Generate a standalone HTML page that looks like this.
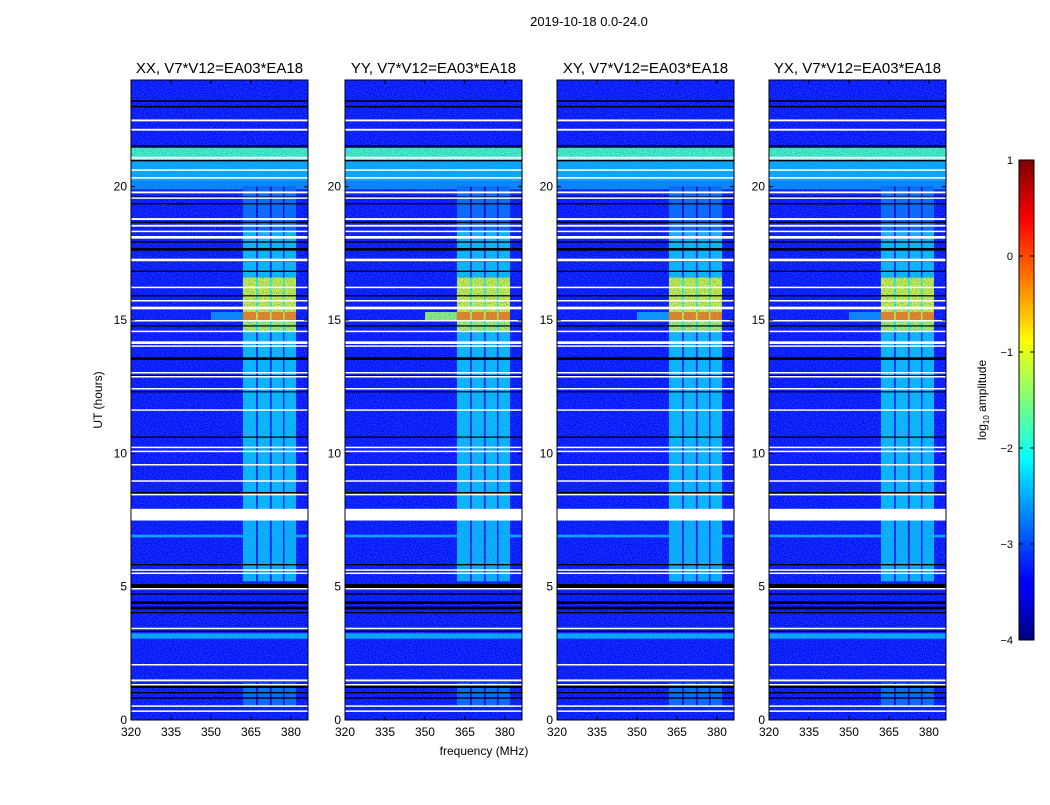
<!DOCTYPE html>
<html><head><meta charset="utf-8">
<style>
body{margin:0;background:#fff;}
svg text{font-family:"Liberation Sans",sans-serif;}
</style></head>
<body>
<svg id="fig" width="1050" height="800" xmlns="http://www.w3.org/2000/svg">
<defs>
<filter id="noise" x="0" y="0" width="100%" height="100%">
<feTurbulence type="fractalNoise" baseFrequency="0.9" numOctaves="1" seed="3" result="n"/>
<feColorMatrix in="n" type="matrix" values="0 0 0 0 0.05  0 0 0 0 0.15  0 0 0 0 0.8  0 0 0 1.6 -0.6"/>
</filter>
<linearGradient id="jet" x1="0" y1="1" x2="0" y2="0">
<stop offset="0" stop-color="#00007f"/><stop offset="0.11" stop-color="#0000ff"/>
<stop offset="0.125" stop-color="#0000ff"/><stop offset="0.34" stop-color="#00d4ff"/>
<stop offset="0.375" stop-color="#00ffff"/><stop offset="0.5" stop-color="#7dff7a"/>
<stop offset="0.625" stop-color="#ffff00"/><stop offset="0.66" stop-color="#ffd400"/>
<stop offset="0.875" stop-color="#ff0000"/><stop offset="1" stop-color="#7f0000"/>
</linearGradient>
</defs>
<text x="589" y="26" font-size="13" text-anchor="middle">2019-10-18 0.0-24.0</text>
<g id="panels"></g>
<text x="484" y="755" font-size="12" text-anchor="middle">frequency (MHz)</text>
<text transform="translate(102,400) rotate(-90)" font-size="12" text-anchor="middle">UT (hours)</text>
<g id="cbar"></g>
</svg>
<script>
const panelTitles = ["XX, V7*V12=EA03*EA18","YY, V7*V12=EA03*EA18","XY, V7*V12=EA03*EA18","YX, V7*V12=EA03*EA18"];
const xTicks = [320,335,350,365,380];
const yTicks = [0,5,10,15,20];
const cbarTicks = [1,0,-1,-2,-3,-4];
const bgLevel = -3.3;
// broadband time bands: [startHour, endHour, log amplitude]
const broadBands = [[21.0,21.45,-1.8],[20.2,21.0,-2.5],[19.9,20.2,-2.7],[3.05,3.25,-2.5],[6.85,6.95,-2.5]];
// active frequency columns (MHz)
const colStart = [362,367.6,372.8,377.6];
const colEnd = [366.9,372.1,377.0,381.9];
// column activity over time: [startHour, endHour, log amplitude]
const activity = [[5.2,7.6,-2.45],[7.9,14.6,-2.4],[14.6,15.0,-1.3],[15.0,15.3,-0.3],[15.3,16.6,-1.1],[16.6,18.3,-2.4],[18.3,20.0,-2.85],[0.5,1.4,-2.85]];
// white (flagged) gaps in hours: [start,end]
const whiteGaps = [[22.45,22.52],[22.1,22.17],[21.05,21.12],[20.6,20.65],[20.3,20.36],[19.75,19.82],[19.55,19.6],[18.75,18.82],[18.5,18.57],[18.3,18.35],[18.05,18.15],[17.2,17.3],[16.2,16.25],[15.7,15.75],[15.4,15.5],[14.95,15.0],[14.55,14.6],[14.1,14.2],[14.0,14.05],[13.0,13.05],[12.85,12.9],[12.4,12.45],[11.6,11.65],[10.2,10.25],[10.05,10.1],[9.55,9.6],[8.95,8.99],[8.43,8.48],[7.48,7.92],[5.6,5.65],[5.48,5.53],[4.9,4.95],[3.42,3.46],[2.05,2.1],[1.45,1.52],[1.3,1.35],[0.5,0.55],[0.32,0.36]];
// black (zero) lines in hours
const blackLines = [[23.18,23.24],[22.97,23.03],[21.5,21.55],[20.95,21.0],[19.6,19.63],[19.35,19.38],[18.65,18.68],[17.9,17.95],[17.6,17.7],[17.2,17.23],[16.8,16.85],[15.9,15.93],[14.77,14.8],[13.5,13.6],[12.9,12.93],[12.3,12.33],[10.6,10.63],[8.5,8.55],[5.8,5.85],[5.5,5.53],[4.95,5.1],[4.7,4.75],[4.35,4.45],[4.15,4.25],[4.0,4.05],[3.3,3.35],[1.2,1.3],[1.0,1.05],[0.8,0.85]];
// panel-specific extension across frequencies at 15-15.3h (YY strongest)
const crossBandLevel = [-2.7,-1.4,-2.6,-2.7];

function jet(v){const t=Math.max(0,Math.min(1,(v+4)/5));const c=x=>Math.round(255*Math.max(0,Math.min(1,1.5-Math.abs(x))));return `rgb(${c(4*t-3)},${c(4*t-2)},${c(4*t-1)})`;}
const NS="http://www.w3.org/2000/svg";
function mk(tag,attrs,parent){const e=document.createElementNS(NS,tag);for(const k in attrs)e.setAttribute(k,attrs[k]);parent.appendChild(e);return e;}
const lefts=[131,345,557,769], W=177, T=80, B=720;
const root=document.getElementById('panels');
lefts.forEach((L,pi)=>{
  const xs=f=>L+(f-320)*W/66.4, ys=h=>B-(h)*(B-T)/24;
  const g=mk('g',{},root);
  
  
  const bg=mk('rect',{x:L,y:T,width:W,height:B-T,fill:jet(bgLevel)},g);
  
  
  broadBands.forEach(b=>{const r=mk('rect',{x:L,y:ys(b[1]),width:W,height:ys(b[0])-ys(b[1]),fill:jet(b[2])},g);
    
    });
  const cb=mk('rect',{x:xs(350),y:ys(15.3),width:xs(362)-xs(350),height:ys(15.0)-ys(15.3),fill:jet(crossBandLevel[pi])},g);
  
  
  activity.forEach(a=>{
    const env=mk('rect',{x:xs(colStart[0]),y:ys(a[1]),width:xs(colEnd[3])-xs(colStart[0]),height:ys(a[0])-ys(a[1]),fill:jet(a[2]-0.8)},g);
    
    
    colStart.forEach((c,ci)=>{const r=mk('rect',{x:xs(c),y:ys(a[1]),width:xs(colEnd[ci])-xs(c),height:ys(a[0])-ys(a[1]),fill:jet(a[2])},g);
      
      });
  });
  const nz=mk('rect',{x:L,y:T,width:W,height:B-T,filter:'url(#noise)'},g);
  
  
  blackLines.forEach(b=>{const r=mk('rect',{x:L,y:ys(b[1]),width:W,height:Math.max(1.2,ys(b[0])-ys(b[1])),fill:'#000'},g);
    
    });
  whiteGaps.forEach(b=>{const r=mk('rect',{x:L,y:ys(b[1]),width:W,height:Math.max(1.5,ys(b[0])-ys(b[1])),fill:'#fff'},g);
    
    });
  const fr=mk('rect',{x:L,y:T,width:W,height:B-T,fill:'none',stroke:'#000','stroke-width':1},g);
  
  
  const tt=mk('text',{x:L+W/2,y:T-7,'font-size':15,'text-anchor':'middle'},g);tt.textContent=panelTitles[pi];
  
  
  xTicks.forEach(v=>{const x=xs(v);mk('line',{x1:x,x2:x,y1:B,y2:B-4,stroke:'#000'},g);mk('line',{x1:x,x2:x,y1:T,y2:T+4,stroke:'#000'},g);
    const t=mk('text',{x:x,y:B+16,'font-size':12,'text-anchor':'middle'},g);t.textContent=v;
    
    });
  yTicks.forEach(v=>{const y=ys(v);mk('line',{x1:L,x2:L+4,y1:y,y2:y,stroke:'#000'},g);mk('line',{x1:L+W,x2:L+W-4,y1:y,y2:y,stroke:'#000'},g);
    const t=mk('text',{x:L-4,y:y+4,'font-size':12,'text-anchor':'end'},g);t.textContent=v;
    
    });
});
const cbar=document.getElementById('cbar');
const cy=v=>640-(v+4)*96;
const cr=mk('rect',{x:1019,y:160,width:15,height:480,fill:'url(#jet)',stroke:'#000','stroke-width':1},cbar);


cbarTicks.forEach(v=>{mk('line',{x1:1019,x2:1023,y1:cy(v),y2:cy(v),stroke:'#000'},cbar);mk('line',{x1:1030,x2:1034,y1:cy(v),y2:cy(v),stroke:'#000'},cbar);
  const t=mk('text',{x:1013,y:cy(v)+4,'font-size':11,'text-anchor':'end'},cbar);t.textContent=v<0?'\u2212'+(-v):v;
  
  });
const cl=mk('text',{transform:'translate(986,400) rotate(-90)','font-size':12,'text-anchor':'middle'},cbar);
cl.innerHTML='log<tspan font-size="8" dy="3">10</tspan><tspan dy="-3"> amplitude</tspan>';


</script>
</body></html>
